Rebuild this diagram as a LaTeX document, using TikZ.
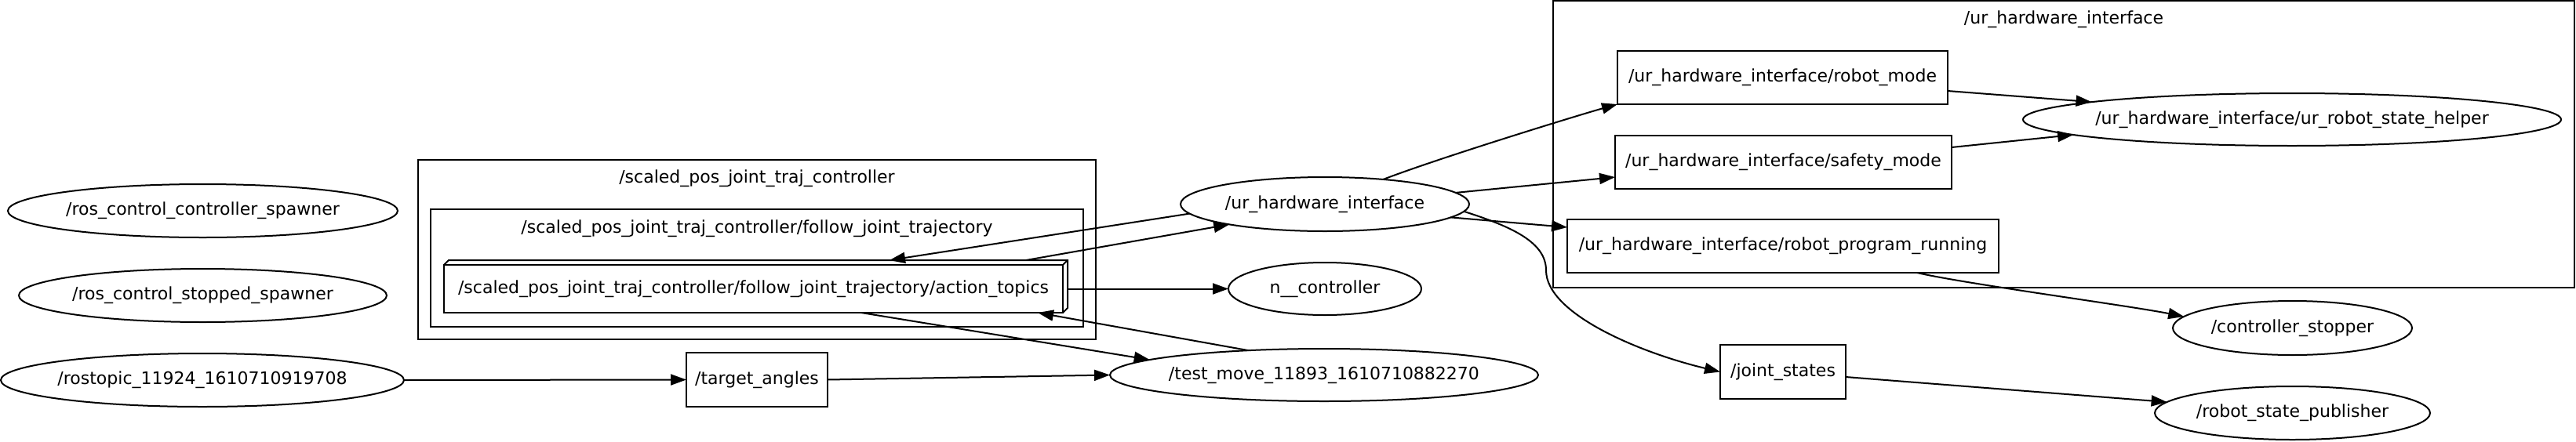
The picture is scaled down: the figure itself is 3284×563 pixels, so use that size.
\documentclass[tikz,border=0pt]{standalone}
\usepackage{fontspec}
\setmainfont{DejaVu Sans}
\usetikzlibrary{arrows.meta,calc,shapes.geometric}
\begin{document}
\begin{tikzpicture}[x=0.5pt,y=-0.5pt,
  every node/.style={font=\fontsize{11pt}{13pt}\selectfont, inner sep=0pt, outer sep=0pt},
  sz/.style 2 args={minimum width=#1*0.5pt, minimum height=#2*0.5pt},
  nodeell/.style={ellipse, draw, line width=1pt},
  topicbox/.style={rectangle, draw, line width=1pt},
  clusterbox/.style={draw, line width=1pt},
  conn/.style={-{Triangle[length=10pt,width=7pt]}, line width=1pt},
]
\useasboundingbox (0,0) rectangle (3284,563);

% clusters
\draw[clusterbox] (533,204) rectangle (1397,433);
\node (clA) at (965,228) {/scaled\_pos\_joint\_traj\_controller};
\draw[clusterbox] (549,267) rectangle (1381,417);
\node (clB) at (965,292) {/scaled\_pos\_joint\_traj\_controller/follow\_joint\_trajectory};
\draw[clusterbox] (1980,1) rectangle (3282,367);
\node (clC) at (2631,25) {/ur\_hardware\_interface};

% nodes
\node[nodeell, sz={497}{68}] (spA) at (258.5,269) {\makebox[0pt]{/ros\_control\_controller\_spawner}};
\node[nodeell, sz={469}{68}] (spB) at (258.5,377) {\makebox[0pt]{/ros\_control\_stopped\_spawner}};
\node[nodeell, sz={514}{68}] (rt) at (258,485) {\makebox[0pt]{/rostopic\_11924\_1610710919708}};
\node[topicbox, sz={180}{69}] (ta) at (965,484.5) {/target\_angles};
\node[topicbox, sz={789}{61}] (at) at (960.5,368.5) {/scaled\_pos\_joint\_traj\_controller/follow\_joint\_trajectory/action\_topics};
\draw[line width=1pt] (at.north west) -- ++(6,-6) -- ($(at.north east)+(6,-6)$) -- ($(at.south east)+(6,-6)$) -- (at.south east);
\draw[line width=1pt] (at.north east) -- ++(6,-6);
\node[nodeell, sz={368}{69}] (ur) at (1689,260.5) {\makebox[0pt]{/ur\_hardware\_interface}};
\node[nodeell, sz={246}{67}] (nc) at (1689,368.5) {\makebox[0pt]{n\_\_controller}};
\node[nodeell, sz={546}{67}] (tm) at (1688,478.5) {\makebox[0pt]{/test\_move\_11893\_1610710882270}};
\node[topicbox, sz={421}{68}] (rm) at (2272.5,99) {/ur\_hardware\_interface/robot\_mode};
\node[topicbox, sz={429}{68}] (sm) at (2273.5,207) {/ur\_hardware\_interface/safety\_mode};
\node[topicbox, sz={550}{68}] (rpr) at (2273,314) {/ur\_hardware\_interface/robot\_program\_running};
\node[nodeell, sz={686}{67}] (hp) at (2922,152.5) {\makebox[0pt]{/ur\_hardware\_interface/ur\_robot\_state\_helper}};
\node[nodeell, sz={305}{69}] (cs) at (2922.5,418.5) {\makebox[0pt]{/controller\_stopper}};
\node[topicbox, sz={160}{69}] (js) at (2273,474.5) {/joint\_states};
\node[nodeell, sz={351}{68}] (rsp) at (2922.5,527) {\makebox[0pt]{/robot\_state\_publisher}};

% edges
\draw[conn] (ur.184.4) -- ($(at.north)+(173.5,-6)$);
\draw[conn] ($(at.north)+(347.5,-6)$) -- (ur.192.5);
\draw[conn] ($(at.east)+(7,0)$) -- (nc.west);
\draw[conn] ($(at.south)+(137.5,0)$) -- (tm.175.4);
\draw[conn] (tm.162) -- ($(at.south)+(362.5,0)$);
\draw[conn] (rt.east) -- (ta.west);
\draw[conn] (ta.east) -- (tm.west);
\draw[conn] (ur.23.4) .. controls +(70,-27) and +(-50,14) .. (rm.south west);
\draw[conn] (ur.5.3) -- ($(sm.west)+(0,19)$);
\draw[conn] (ur.354.4) -- ($(rpr.north west)+(0,10)$);
\draw[conn] (ur.357.7) .. controls (1930,290) and (1971,310) .. (1971,345)
  .. controls (1971,400) and (2090,450) .. (js.west);
\draw[conn] ($(rm.east)+(0,17)$) -- (hp.175.7);
\draw[conn] ($(sm.east)+(0,-19)$) -- (hp.184.55);
\draw[conn] ($(rpr.south)+(171,0)$) .. controls +(60,14) and +(-70,-14) .. (cs.174);
\draw[conn] ($(js.east)+(0,6.5)$) -- (rsp.175.1);
\end{tikzpicture}
\end{document}
